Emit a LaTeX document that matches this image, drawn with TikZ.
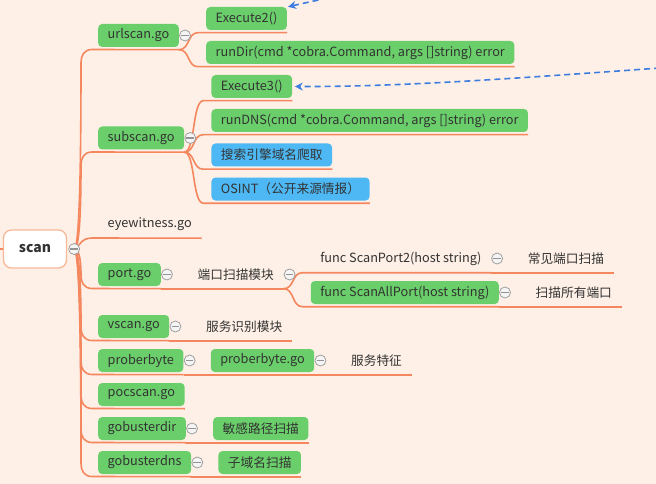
\documentclass[tikz,border=0pt]{standalone}
\usepackage{fontspec}
\setmainfont{Noto Sans CJK SC}
\usetikzlibrary{calc,arrows.meta}
\definecolor{bg}{HTML}{FEF0E6}
\definecolor{ln}{HTML}{F5875F}
\definecolor{gr}{HTML}{6ACF6A}
\definecolor{bl}{HTML}{4DB8F3}
\definecolor{ab}{HTML}{3D7DDF}
\definecolor{tx}{HTML}{333333}
\definecolor{sb}{HTML}{F7B898}
\newcommand\trunkup[2]{\draw[br] (scanc) .. controls (80,249) and (81,{#2+27+0.45*(249-#2-27)}) .. (81,#2+27) .. controls (81,#2+20) and (84,#2+14) .. (92,#2+14) -- ([yshift=-2.5pt]#1.south east);}
\newcommand\trunkdn[2]{\draw[br] (scanc) .. controls (80,249) and (81,{#2+1-0.45*(#2+1-249)}) .. (81,#2+1) .. controls (81,#2+8) and (84,#2+14) .. (92,#2+14) -- ([yshift=-2.5pt]#1.south east);}
\newcommand\subbr[2]{\draw[br] ([yshift=-2.5pt]#1.south east) .. controls ([xshift=11pt,yshift=-2.5pt]#1.south east) and ([xshift=-19pt,yshift=-2.5pt]#2.south west) .. ([xshift=-8pt,yshift=-2.5pt]#2.south west) -- ([yshift=-2.5pt]#2.south east);}
\begin{document}
\begin{tikzpicture}[x=1pt,y=-1pt,
 font=\fontsize{12.7}{15}\selectfont,
 base/.style={anchor=west, text=tx, inner xsep=9.5pt, inner ysep=0pt, minimum height=23pt, rounded corners=4pt},
 gbox/.style={base, fill=gr},
 bbox/.style={base, fill=bl},
 tbox/.style={base},
 br/.style={draw=ln, line width=1.6pt},
 tog/.style={circle, draw=gray!75, fill=gray!8, line width=0.8pt, minimum size=11pt, inner sep=0pt, path picture={\draw[gray!85,line width=1.1pt] ([xshift=-3.8pt]path picture bounding box.center) -- ([xshift=3.8pt]path picture bounding box.center);}},
 arr/.style={draw=ab, line width=1.6pt, dash pattern=on 6pt off 4pt, -{Stealth[length=8pt,width=8pt]}},
]
\fill[bg] (0,0) rectangle (656,484);
\useasboundingbox (0,0) rectangle (656,484);

\node[base, draw=sb, fill=white, line width=1.3pt, rounded corners=8pt, minimum width=63pt, minimum height=38pt, anchor=center, font=\fontsize{14}{16}\selectfont\bfseries] (scan) at (35,249) {scan};

\node[gbox] (urlscan) at (98,35.5) {urlscan.go};
\node[gbox] (subscan) at (98,138) {subscan.go};
\node[tbox] (eyew) at (98,224) {eyewitness.go};
\node[gbox] (port) at (98,274.5) {port.go};
\node[gbox] (vscan) at (98,326.5) {vscan.go};
\node[gbox] (prob) at (98,360.5) {proberbyte};
\node[gbox] (poc) at (98,394.5) {pocscan.go};
\node[gbox] (gdir) at (98,428.5) {gobusterdir};
\node[gbox] (gdns) at (98,462.5) {gobusterdns};

\node[gbox] (exe2) at ($(urlscan.east)+(27,-17)$) {Execute2()};
\node[gbox] (rundir) at ($(urlscan.east)+(27,17)$) {runDir(cmd *cobra.Command, args []string) error};
\node[gbox] (exe3) at ($(subscan.east)+(27,-51.5)$) {Execute3()};
\node[gbox] (rundns) at ($(subscan.east)+(27,-17.5)$) {runDNS(cmd *cobra.Command, args []string) error};
\node[bbox] (search) at ($(subscan.east)+(27,17)$) {搜索引擎域名爬取};
\node[bbox] (osint) at ($(subscan.east)+(27,51)$) {OSINT（公开来源情报）};
\node[tbox] (portmod) at ($(port.east)+(27,0)$) {端口扫描模块};
\node[tbox] (sp2) at ($(portmod.east)+(27,-16)$) {func ScanPort2(host string)};
\node[gbox] (spall) at ($(portmod.east)+(27,18)$) {func ScanAllPort(host string)};
\node[tbox] (common) at ($(sp2.east)+(27,0)$) {常见端口扫描};
\node[tbox] (allp) at ($(spall.east)+(27,0)$) {扫描所有端口};
\node[tbox] (svcid) at ($(vscan.east)+(27,0)$) {服务识别模块};
\node[gbox] (probgo) at ($(prob.east)+(27,0)$) {proberbyte.go};
\node[tbox] (svcf) at ($(probgo.east)+(27,0)$) {服务特征};
\node[gbox] (sens) at ($(gdir.east)+(27,0)$) {敏感路径扫描};
\node[gbox] (subd) at ($(gdns.east)+(27,0)$) {子域名扫描};

\coordinate (scanc) at ($(scan.east)+(7,0)$);
\coordinate (stub) at (0,249);
\draw[br] (stub) -- (scan.west);

\trunkup{urlscan}{35.5}
\trunkup{subscan}{138}
\draw[br] (scanc) .. controls (80,247) and (80,238) .. (92,238) -- ([yshift=-2.5pt]eyew.south east);
\trunkdn{port}{274.5}
\trunkdn{vscan}{326.5}
\trunkdn{prob}{360.5}
\trunkdn{poc}{394.5}
\trunkdn{gdir}{428.5}
\trunkdn{gdns}{462.5}

\subbr{urlscan}{exe2}
\subbr{urlscan}{rundir}
\subbr{subscan}{exe3}
\subbr{subscan}{rundns}
\subbr{subscan}{search}
\subbr{subscan}{osint}
\subbr{port}{portmod}
\subbr{portmod}{sp2}
\subbr{portmod}{spall}
\subbr{sp2}{common}
\subbr{spall}{allp}
\subbr{vscan}{svcid}
\subbr{prob}{probgo}
\subbr{probgo}{svcf}
\subbr{gdir}{sens}
\subbr{gdns}{subd}

\node[tog] (t0) at (scanc) {};
\node[tog] (t1) at ($(urlscan.east)+(6,0)$) {};
\node[tog] (t2) at ($(subscan.east)+(6,0)$) {};
\node[tog] (t3) at ($(port.east)+(6,0)$) {};
\node[tog] (t4) at ($(portmod.east)+(6,0)$) {};
\node[tog] (t5) at ($(sp2.east)+(6,0)$) {};
\node[tog] (t6) at ($(spall.east)+(6,0)$) {};
\node[tog] (t7) at ($(vscan.east)+(6,0)$) {};
\node[tog] (t8) at ($(prob.east)+(6,0)$) {};
\node[tog] (t9) at ($(probgo.east)+(6,0)$) {};
\node[tog] (t10) at ($(gdir.east)+(6,0)$) {};
\node[tog] (t11) at ($(gdns.east)+(6,0)$) {};

\coordinate (src1) at (338,-4);
\draw[arr] (src1) .. controls (318,0) and (300,4) .. ([xshift=1pt]exe2.north east);
\coordinate (src2) at (660,68);
\draw[arr] (src2) .. controls (520,78) and (400,87) .. ([xshift=2.5pt]exe3.east);
\end{tikzpicture}
\end{document}
